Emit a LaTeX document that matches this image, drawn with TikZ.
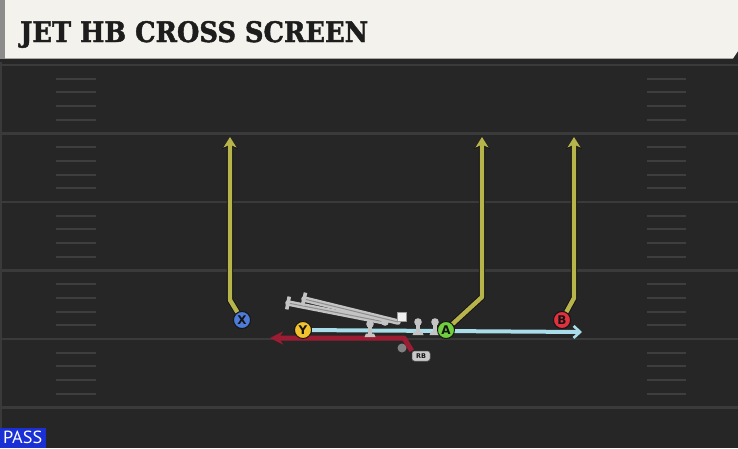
\documentclass[tikz,border=0pt]{standalone}
\usepackage{graphicx}
\usepackage{fontspec}
\setmainfont{DejaVu Serif}
\newfontfamily\titlefont{DejaVu Serif}[BoldFeatures={FakeBold=1.6}]
\newfontfamily\lettfont{DejaVu Sans}
\newfontfamily\passfont{PT Sans}
\usetikzlibrary{arrows.meta,calc}
\definecolor{field}{HTML}{262626}
\definecolor{yardline}{HTML}{3A3A3A}
\definecolor{hashcol}{HTML}{3E3E3E}
\definecolor{cream}{HTML}{F4F2EC}
\definecolor{titlecol}{HTML}{1D1D1D}
\definecolor{yel}{HTML}{B6B44A}
\definecolor{outl}{HTML}{141414}
\definecolor{skyb}{HTML}{A8DDE9}
\definecolor{redr}{HTML}{9C1C33}
\definecolor{pX}{HTML}{4C7BD8}
\definecolor{pY}{HTML}{F2C22E}
\definecolor{pA}{HTML}{6FCF3C}
\definecolor{pB}{HTML}{E0313F}
\definecolor{olgrey}{HTML}{C4C4C4}
\definecolor{olmid}{HTML}{8E8E8E}
\definecolor{passblue}{HTML}{1A30D4}
\begin{document}
\begin{tikzpicture}[x=1pt,y=-1pt,
  player/.style={circle,minimum size=17pt,inner sep=0pt,draw=outl,line width=0.9pt,
    font=\lettfont\bfseries\fontsize{12}{12}\selectfont,text=outl},
  yroute/.style={draw=yel,line width=4.4pt,line join=round,
    preaction={draw=outl,line width=6.2pt,-{Stealth[length=12pt,width=15.5pt,inset=3.5pt]}},
    -{Stealth[length=10.5pt,width=13pt,inset=3pt]}},
  broute/.style={draw=skyb,line width=4pt,-{Straight Barb[length=6.5pt,width=12pt,line width=2.6pt]}},
  rroute/.style={draw=redr,line width=5pt,line join=round,-{Stealth[length=13pt,width=13pt,inset=4pt]}},
  yardl/.style={draw=yardline,line width=2.2pt},
  hashl/.style={draw=hashcol,line width=2pt},
  motion/.style={draw=olgrey,line width=5.6pt,line cap=round},
  motionmid/.style={draw=olmid,line width=1pt},
  mcap/.style={draw=olgrey,line width=3.6pt},
  oline/.pic={
    \fill[olgrey] (-5.5,0) -- (5.5,0) -- (4,-3.5) -- (-4,-3.5) -- cycle;
    \fill[olgrey] (-2,-3) rectangle (2,-12);
    \fill[olgrey] (0,-13) circle (3.8);
  }]
\useasboundingbox (0,0) rectangle (738,448);
% field
\fill[field] (0,0) rectangle (738,448);
\fill[yardline] (0,59) rectangle (2,448);
% yard lines
\draw[draw=yardline,line width=1.6pt] (0,65) -- (738,65);
\foreach \b in {133.5,202,270.5,339,407.5} \draw[yardl] (0,\b) -- (738,\b);
% hash marks
\foreach \b in {65,133.5,202,270.5,339} {
  \foreach \k in {1,...,4} {
    \draw[hashl] (56,{\b+13.7*\k}) -- (96,{\b+13.7*\k});
    \draw[hashl] (647,{\b+13.7*\k}) -- (686,{\b+13.7*\k});
  }
}
% header
\fill[black!85] (0,58) rectangle (738,62);
\fill[cream] (0,0) -- (738,0) -- (738,51) -- (733,58.5) -- (0,58.5) -- cycle;
\fill[black!45] (0,0) rectangle (5,58.5);
\node[anchor=base west,inner sep=0pt,text=titlecol] (title) at (20,42)
  {\resizebox{348pt}{21pt}{\titlefont\bfseries JET HB CROSS SCREEN}};
% players
\node[player,fill=pX] (X) at (242,320) {X};
\node[player,fill=pY] (Y) at (303,330) {Y};
\node[player,fill=pA] (A) at (446,330) {A};
\node[player,fill=pB] (B) at (562,320) {B};
\node[fill=olgrey!90,draw=black!60,line width=0.5pt,rounded corners=2.5pt,inner sep=0pt,
  minimum width=18pt,minimum height=10pt,text=outl,
  font=\lettfont\bfseries\fontsize{6.5}{6.5}\selectfont] (RB) at (421,356) {RB};
\node[circle,fill=black!50,inner sep=0pt,minimum size=9pt] (ball) at (402,348) {};
% route end points
\coordinate (yend) at (582,332);
\coordinate (rk) at (404,338);
\coordinate (rend) at (270,338);
\coordinate (xk) at (230,300);
\coordinate (xe) at (230,137);
\coordinate (ak) at (482,297);
\coordinate (ae) at (482,137);
\coordinate (bk) at (574,298);
\coordinate (be) at (574,137);
% routes
\draw[rroute] (RB.north west) -- (rk) -- (rend);
\draw[broute] (Y) -- (yend);
% linemen
\pic at (370,337) {oline};
\pic at (418,335) {oline};
\pic at (435,335) {oline};
% motion lines
\coordinate (m1s) at (288,303);
\coordinate (m1e) at (385,322);
\coordinate (m2s) at (304,299);
\coordinate (m2e) at (398,322);
\draw[motion] (m1s) -- (m1e);
\draw[motionmid] (m1s) -- (m1e);
\draw[mcap] ($(m1s)!6.5pt!90:(m1e)$) -- ($(m1s)!6.5pt!-90:(m1e)$);
\fill[olgrey] (m1e) circle (3.8);
\draw[motion] (m2s) -- (m2e);
\draw[motionmid] (m2s) -- (m2e);
\draw[mcap] ($(m2s)!6.5pt!90:(m2e)$) -- ($(m2s)!6.5pt!-90:(m2e)$);
\node[fill=white!94!black,draw=black!40,line width=0.5pt,inner sep=0pt,minimum size=9pt] (center) at (402,317) {};
\draw[yroute] (X) -- (xk) -- (xe);
\draw[yroute] (A) -- (ak) -- (ae);
\draw[yroute] (B) -- (bk) -- (be);
% redraw players on top
\node[player,fill=pX] at (X) {X};
\node[player,fill=pY] at (Y) {Y};
\node[player,fill=pA] at (A) {A};
\node[player,fill=pB] at (B) {B};
% pass label
\fill[passblue] (0,428) rectangle (46,448);
\node[anchor=base west,inner sep=0pt,text=white] (pass) at (3,443.5)
  {\resizebox{39pt}{12.5pt}{\passfont PASS}};
\end{tikzpicture}
\end{document}
